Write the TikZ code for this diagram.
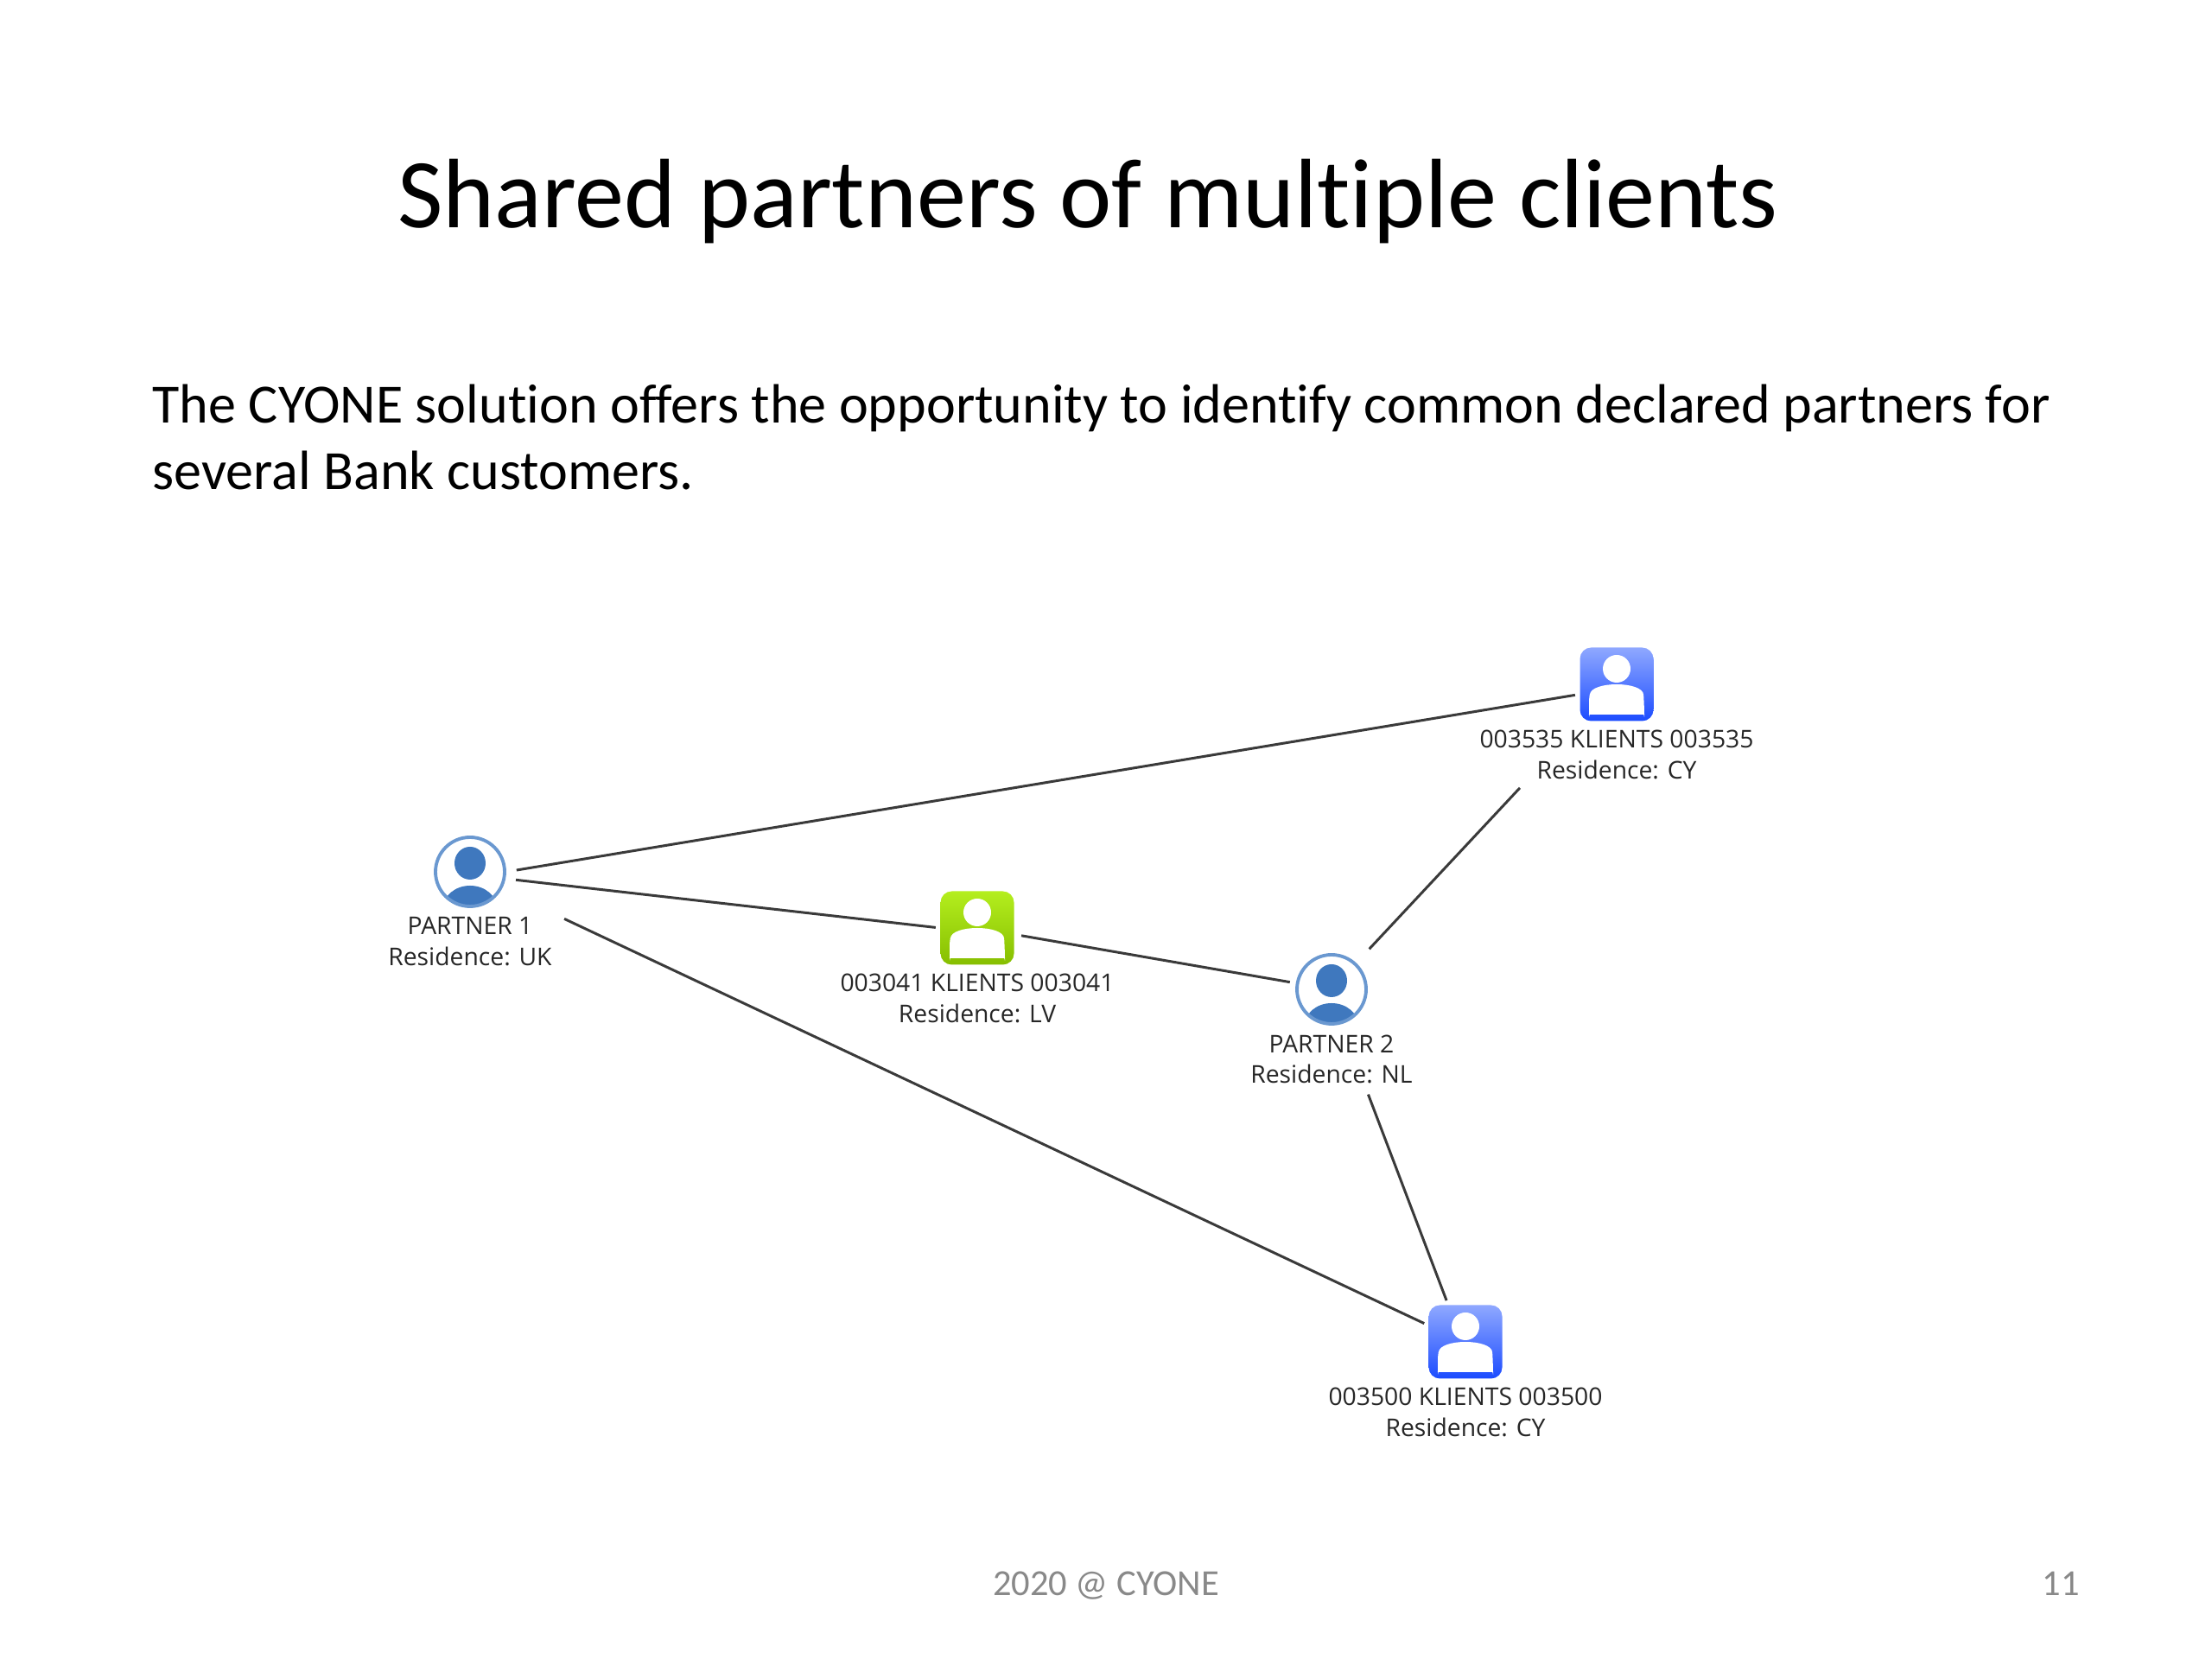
\documentclass[tikz,border=0pt]{standalone}
\usepackage{xcolor}
\usepackage{fontspec}
\usepackage{tikz}
\usetikzlibrary{shapes.geometric,positioning}
\setmainfont[Ligatures={NoCommon}]{Carlito}
\newfontfamily\LabelFont{Open Sans}
\definecolor{PartnerBlue}{HTML}{3F78BE}
\definecolor{PartnerRing}{HTML}{6A98D0}
\definecolor{ClientTopB}{HTML}{8FA8FF}
\definecolor{ClientBotB}{HTML}{1C4CFF}
\definecolor{ClientTopG}{HTML}{B4EE1E}
\definecolor{ClientBotG}{HTML}{86BE00}
\definecolor{LinkGrey}{HTML}{3A3A3A}
\definecolor{FootGrey}{HTML}{898989}
\tikzset{
  FB/.style={rectangle,rounded corners=0.13cm,
             minimum size=0.85cm,inner sep=0pt,
             path picture={
               \begin{scope}[shift={(path picture bounding box.center)}]
                 \fill[white] (0,0.18) circle (0.16);
                 \fill[white] (-0.32,-0.25) .. controls (-0.3,0.04) and (0.3,0.04) .. (0.32,-0.25)
                   .. controls (0.32,-0.33) and (0.28,-0.35) .. (0.2,-0.35) -- (-0.2,-0.35)
                   .. controls (-0.28,-0.35) and (-0.32,-0.33) .. cycle;
               \end{scope}}},
  nP/.style={circle,minimum size=0.8cm,inner sep=0pt,draw=PartnerRing,line width=1.1pt,fill=white,
             path picture={
               \begin{scope}[shift={(path picture bounding box.center)}]
                 \fill[PartnerBlue] (0,0.1) ellipse (0.18 and 0.19);
                 \fill[PartnerBlue] (0,-0.42) ellipse (0.31 and 0.26);
               \end{scope}}},
  nB/.style={FB,top color=ClientTopB,bottom color=ClientBotB},
  nG/.style={FB,top color=ClientTopG,bottom color=ClientBotG},
  LB/.style={align=center,inner sep=0pt,text=black!85,
             font=\LabelFont\fontsize{8.05}{10.2}\selectfont},
  arr/.style={LinkGrey,line width=0.85pt},
  foot/.style={anchor=base,text=FootGrey,font=\fontsize{12.1}{14}\selectfont}
}
\begin{document}
\begin{tikzpicture}
  \useasboundingbox (0,0) rectangle (25.6,19.2);
  \node[anchor=base,font=\fontsize{32.5}{39}\selectfont] (title) at (12.59,16.56) {Shared partners of multiple clients};
  \node[anchor=base west,inner sep=0pt,font=\fontsize{18.24}{22}\selectfont] (introA) at (1.76,14.3) {The CYONE solution offers the opportunity to identify common declared partners for};
  \node[anchor=base west,inner sep=0pt,font=\fontsize{18.24}{22}\selectfont] (introB) at (1.76,13.53) {several Bank customers.};

  \node[nP] (partnerA) at (5.44,9.11) {};
  \node[nG] (clientG) at (11.31,8.46) {};
  \node[nP] (partnerB) at (15.41,7.75) {};
  \node[nB] (clientA) at (18.71,11.28) {};
  \node[nB] (clientB) at (16.96,3.67) {};

  \node[LB,below=0.1cm of partnerA] (partnerAtxt) {PARTNER 1\\Residence: UK};
  \node[LB,below=0.09cm of clientG] (clientGtxt) {003041 KLIENTS 003041\\Residence: LV};
  \node[LB,below=0.1cm of partnerB] (partnerBtxt) {PARTNER 2\\Residence: NL};
  \node[LB,below=0.09cm of clientA] (clientAtxt) {003535 KLIENTS 003535\\Residence: CY};
  \node[LB,below=0.09cm of clientB] (clientBtxt) {003500 KLIENTS 003500\\Residence: CY};

  \draw[arr,shorten <=0.12cm,shorten >=0.05cm] (partnerA.east)--(clientA.195);
  \draw[arr,shorten <=0.12cm,shorten >=0.05cm] (partnerA.-11)--(clientG.west);
  \draw[arr,shorten <=0.8cm,shorten >=0.05cm] (partnerA.-29)--(clientB.156);
  \draw[arr,shorten <=0.08cm,shorten >=0.07cm] (clientG)--(partnerB);
  \draw[arr,shorten <=0.22cm,shorten >=1.05cm] (partnerB)--(clientA);
  \draw[arr,shorten <=0.87cm,shorten >=0.05cm] (partnerB.-74)--(clientB.115);

  \node[foot] (footer) at (12.8,0.73) {2020 @ CYONE};
  \node[foot] (pageno) at (23.85,0.73) {11};
\end{tikzpicture}
\end{document}
